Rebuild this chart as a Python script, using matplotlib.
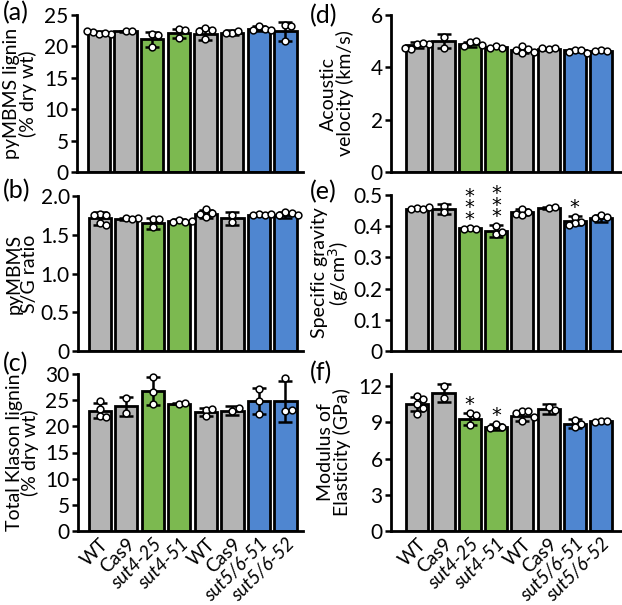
import numpy as np
import matplotlib
matplotlib.use("Agg")
import matplotlib.pyplot as plt

plt.rcParams['font.family'] = ['Lato', 'DejaVu Sans']

genotypes = ["WT", "Cas9", "sut4-25", "sut4-51", "WT", "Cas9", "sut5/6-51", "sut5/6-52"]
italic = [False, False, True, True, False, False, True, True]
bar_colors = ["#b4b4b4", "#b4b4b4", "#7cb950", "#7cb950",
              "#b4b4b4", "#b4b4b4", "#4f86d0", "#4f86d0"]

# (a) pyMBMS lignin
lignin_mean = [22.2, 22.4, 21.1, 22.1, 22.0, 22.2, 22.8, 22.4]
lignin_sd = [0.2, 0.05, 1.2, 0.7, 1.0, 0.4, 0.4, 1.5]
lignin_pts = [[22.0, 22.0, 22.1, 22.3, 22.4], [22.4, 22.5], [21.9, 21.8, 19.9],
              [22.7, 22.6, 21.3], [22.9, 22.6, 22.4, 21.1], [22.2, 22.5, 22.1],
              [23.2, 22.8, 22.6, 22.6], [23.4, 23.3, 20.8]]

# (b) S/G ratio
sg_mean = [1.71, 1.70, 1.65, 1.68, 1.77, 1.71, 1.76, 1.76]
sg_sd = [0.08, 0.01, 0.07, 0.02, 0.05, 0.08, 0.01, 0.04]
sg_pts = [[1.77, 1.75, 1.75, 1.65, 1.62], [1.71, 1.71, 1.70], [1.70, 1.70, 1.60],
          [1.69, 1.67, 1.67, 1.68], [1.83, 1.78, 1.77, 1.73], [1.75, 1.66],
          [1.77, 1.76, 1.76, 1.77], [1.80, 1.78, 1.76, 1.75]]

# (c) Klason lignin
klason_mean = [23.0, 23.8, 26.8, 24.3, 22.7, 23.0, 24.9, 24.8]
klason_sd = [1.5, 1.8, 2.7, 0.1, 0.8, 0.8, 2.5, 3.9]
klason_pts = [[24.9, 23.3, 22.0, 21.8], [25.5, 22.5], [29.5, 26.5, 24.2],
              [24.3, 24.5], [23.2, 23.4, 21.9], [23.0, 23.5],
              [27.1, 24.8, 22.4], [29.2, 23.0, 23.2]]

# (d) Acoustic velocity
velocity_mean = [4.85, 5.0, 4.88, 4.78, 4.65, 4.70, 4.65, 4.62]
velocity_sd = [0.1, 0.27, 0.1, 0.03, 0.1, 0.04, 0.05, 0.02]
velocity_pts = [[4.9, 4.9, 4.92, 4.7, 4.75], [5.15, 4.75], [4.95, 5.0, 4.8, 4.85],
                [4.8, 4.75, 4.75], [4.8, 4.7, 4.65, 4.55, 4.6], [4.7, 4.72, 4.75],
                [4.68, 4.65, 4.6, 4.55], [4.65, 4.63, 4.62]]

# (e) Specific gravity
gravity_mean = [0.455, 0.455, 0.395, 0.385, 0.445, 0.457, 0.418, 0.425]
gravity_sd = [0.004, 0.015, 0.002, 0.02, 0.01, 0.003, 0.015, 0.012]
gravity_pts = [[0.458, 0.455, 0.455, 0.46], [0.465, 0.445], [0.395, 0.392, 0.392],
               [0.40, 0.375, 0.38], [0.455, 0.445, 0.44, 0.435], [0.458, 0.46],
               [0.43, 0.415, 0.41, 0.405], [0.435, 0.43, 0.425]]
gravity_stars = ["", "", "***", "***", "", "", "*", ""]

# (f) Modulus of elasticity
moe_mean = [10.5, 11.4, 9.3, 8.65, 9.5, 10.1, 8.9, 9.1]
moe_sd = [0.6, 0.75, 0.5, 0.25, 0.4, 0.4, 0.35, 0.05]
moe_pts = [[11.2, 10.9, 10.5, 10.2, 9.7], [12.0, 11.0], [9.8, 9.6, 8.8],
           [8.9, 8.6, 8.5], [9.9, 9.9, 9.8, 9.4, 9.1], [10.3, 10.0],
           [9.2, 8.9, 8.6], [9.1, 9.1, 9.05]]
moe_stars = ["", "", "*", "*", "", "", "", ""]

fig = plt.figure(figsize=(6.22, 6.05), dpi=100)
W, H = 622, 605


def add_axes(left, top, right, bottom):
    return fig.add_axes([left / W, 1 - bottom / H, (right - left) / W, (bottom - top) / H])


def swarm(ax, x, pts, r=3.2):
    # simple beeswarm in pixel space so overlapping dots spread sideways
    placed = []
    for v in pts:
        px, py = ax.transData.transform((x, v))
        for k in [0, 1, -1, 2, -2, 3, -3]:
            cx = px + k * r * 1.9
            if all((cx - qx) ** 2 + (py - qy) ** 2 >= (2 * r * 0.95) ** 2 for qx, qy in placed):
                break
        placed.append((cx, py))
    inv = ax.transData.inverted()
    return [inv.transform(p) for p in placed]


def panel(ax, mean, sd, pts, ylim, yticks, ylabel, label_x, xlim, stars=None, xlabels=False):
    x = np.arange(len(mean))
    ax.set_xlim(*xlim)
    ax.set_ylim(*ylim)
    ax.bar(x, mean, width=0.84, color=bar_colors, edgecolor="black", linewidth=2, zorder=2)
    ax.errorbar(x, mean, yerr=sd, fmt="none", ecolor="black", elinewidth=1.8,
                capsize=5, capthick=1.8, zorder=3)
    for i, p in enumerate(pts):
        xy = np.array(swarm(ax, i, p))
        ax.scatter(xy[:, 0], xy[:, 1], s=24, facecolor="white", edgecolor="black",
                   linewidth=1.1, zorder=4, clip_on=False)
    if stars:
        for i, s in enumerate(stars):
            if s:
                ax.annotate("\n".join(s), (i, mean[i] + sd[i]), xytext=(0, -1),
                            textcoords="offset points", ha="center", va="bottom",
                            fontsize=14, linespacing=0.5, family="DejaVu Sans")
    ax.set_yticks(yticks)
    ax.set_yticklabels([("%g" % t) if t != 0 else "0" for t in yticks])
    ax.tick_params(axis="y", labelsize=15, width=1.8, length=4, pad=2)
    ax.tick_params(axis="x", length=0, pad=3)
    for s in ["top", "right"]:
        ax.spines[s].set_visible(False)
    for s in ["left", "bottom"]:
        ax.spines[s].set_linewidth(2)
    ax.set_ylabel(ylabel, fontsize=14, va="center", linespacing=0.9)
    ax.yaxis.set_label_coords(label_x, 0.5)
    ax.set_xticks(x)
    if xlabels:
        ax.set_xticklabels(genotypes, rotation=45, ha="right", rotation_mode="anchor", fontsize=13.5)
        for t, it in zip(ax.get_xticklabels(), italic):
            if it:
                t.set_style("italic")
    else:
        ax.set_xticklabels([])


xl_left = (-0.82, 7.66)
xl_right = (-1.0, 7.76)

ax_a = add_axes(77, 15, 303, 172)
panel(ax_a, lignin_mean, lignin_sd, lignin_pts, (0, 25), [0, 5, 10, 15, 20, 25],
      "pyMBMS lignin\n(% dry wt)", -0.252, xl_left)
ax_b = add_axes(78, 196, 303, 351)
panel(ax_b, sg_mean, sg_sd, sg_pts, (0, 2.0), [0, 0.5, 1.0, 1.5, 2.0],
      "pyMBMS\nS/G ratio", -0.25, xl_left)
ax_b.set_yticklabels(["0", "0.5", "1.0", "1.5", "2.0"])
ax_c = add_axes(78, 374, 303, 531)
panel(ax_c, klason_mean, klason_sd, klason_pts, (0, 30), [0, 5, 10, 15, 20, 25, 30],
      "Total Klason lignin\n(% dry wt)", -0.247, xl_left, xlabels=True)

ax_d = add_axes(391, 15, 621, 172)
panel(ax_d, velocity_mean, velocity_sd, velocity_pts, (0, 6), [0, 2, 4, 6],
      "Acoustic\nvelocity (km/s)", -0.235, xl_right)
ax_e = add_axes(391, 195, 621, 351)
panel(ax_e, gravity_mean, gravity_sd, gravity_pts, (0, 0.5), [0, 0.1, 0.2, 0.3, 0.4, 0.5],
      "Specific gravity\n(g/cm$^3$)", -0.26, xl_right, stars=gravity_stars)
ax_f = add_axes(391, 374, 621, 531)
panel(ax_f, moe_mean, moe_sd, moe_pts, (0, 13), [0, 3, 6, 9, 12],
      "Modulus of\nElasticity (GPa)", -0.248, xl_right, stars=moe_stars, xlabels=True)

for lab, px, py in [("(a)", 3, 13), ("(b)", 3, 191), ("(c)", 3, 364),
                    ("(d)", 310, 16), ("(e)", 310, 192), ("(f)", 310, 373)]:
    fig.text(px / W, 1 - py / H, lab, fontsize=18, ha="left", va="center")

fig.savefig("out.png", dpi=100)
